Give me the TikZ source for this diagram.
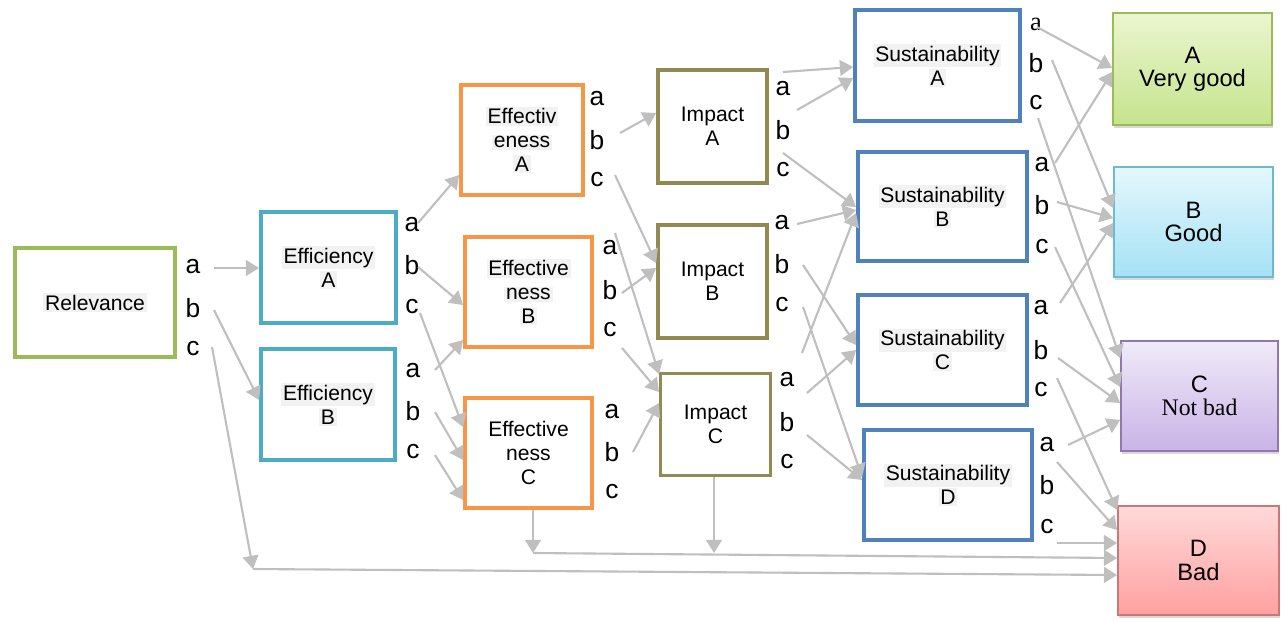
\documentclass[tikz,border=0pt]{standalone}
\usepackage{fontspec}
\setmainfont{Liberation Sans}
\newfontfamily\timesfont{Liberation Serif}
\usetikzlibrary{arrows.meta,shadows}

\definecolor{relgreen}{HTML}{9BBB59}
\definecolor{effteal}{HTML}{4BACC6}
\definecolor{efvorange}{HTML}{F79646}
\definecolor{impolive}{HTML}{938953}
\definecolor{susblue}{HTML}{4F81BD}
\definecolor{arrowgray}{HTML}{BFBFBF}
\definecolor{hlgray}{HTML}{F2F2F2}

\setlength{\fboxsep}{1pt}
\newcommand{\hlt}[1]{\colorbox{hlgray}{#1}}

\begin{document}
\begin{tikzpicture}[x=0.02cm, y=-0.02cm, >={Triangle[length=7.5pt,width=9pt]}]

    \useasboundingbox (0,0) rectangle (1283,620);

    % criteria boxes
    \begin{scope}[every node/.style={draw, line width=2.2pt, fill=white, align=center, inner sep=0pt, font=\fontsize{12}{13.6}\selectfont}]
        \node[draw=relgreen, minimum width=3.2cm, minimum height=2.18cm] (rel) at (95,302.5) {\hlt{Relevance}};
        \node[draw=effteal, minimum width=2.7cm, minimum height=2.22cm] (effA) at (328.5,267.5) {\hlt{Efficiency}\\\hlt{A}};
        \node[draw=effteal, minimum width=2.68cm, minimum height=2.22cm] (effB) at (328,404.5) {\hlt{Efficiency}\\\hlt{B}};
        \node[draw=efvorange, minimum width=2.44cm, minimum height=2.2cm] (efvA) at (522,140) {\hlt{Effectiv}\\\hlt{eness}\\\hlt{A}};
        \node[draw=efvorange, minimum width=2.54cm, minimum height=2.2cm] (efvB) at (528.5,292) {\hlt{Effective}\\\hlt{ness}\\\hlt{B}};
        \node[draw=efvorange, minimum width=2.54cm, minimum height=2.2cm] (efvC) at (528.5,453) {Effective\\ness\\C};
        \node[draw=impolive, minimum width=2.18cm, minimum height=2.26cm] (impA) at (712.5,126.5) {Impact\\A};
        \node[draw=impolive, minimum width=2.18cm, minimum height=2.26cm] (impB) at (712.5,281.5) {Impact\\B};
        \node[draw=impolive, line width=1.7pt, minimum width=2.2cm, minimum height=2.04cm] (impC) at (715.5,424.5) {Impact\\C};
        \node[draw=susblue, minimum width=3.3cm, minimum height=2.22cm] (susA) at (937.5,65.5) {\hlt{Sustainability}\\\hlt{A}};
        \node[draw=susblue, minimum width=3.38cm, minimum height=2.18cm] (susB) at (942.5,206.5) {\hlt{Sustainability}\\\hlt{B}};
        \node[draw=susblue, minimum width=3.38cm, minimum height=2.2cm] (susC) at (942.5,350) {\hlt{Sustainability}\\\hlt{C}};
        \node[draw=susblue, minimum width=3.36cm, minimum height=2.2cm] (susD) at (948,485) {\hlt{Sustainability}\\\hlt{D}};
    \end{scope}

    % outcome boxes
    \begin{scope}[every node/.style={draw, line width=1pt, align=center, inner sep=0pt, font=\fontsize{13.5}{13.2}\selectfont, drop shadow={opacity=0.3, shadow xshift=0.8pt, shadow yshift=-1.5pt}}]
        \node[draw=relgreen, top color={rgb,255:red,235;green,245;blue,208}, bottom color={rgb,255:red,197;green,228;blue,140}, minimum width=3.18cm, minimum height=2.24cm] (vgood) at (1192.5,69) {A\\Very good};
        \node[draw={rgb,255:red,110;green,185;blue,208}, top color={rgb,255:red,228;green,247;blue,252}, bottom color={rgb,255:red,165;green,226;blue,245}, minimum width=3.18cm, minimum height=2.2cm] (good) at (1193.5,222) {B\\Good};
        \node[draw={rgb,255:red,143;green,120;blue,176}, top color={rgb,255:red,240;green,234;blue,249}, bottom color={rgb,255:red,201;green,179;blue,230}, minimum width=3.14cm, minimum height=2.2cm] (notbad) at (1199.5,396) {C\\{\timesfont Not bad}};
        \node[draw={rgb,255:red,200;green,120;blue,118}, top color={rgb,255:red,255;green,217;blue,217}, bottom color={rgb,255:red,255;green,160;blue,160}, minimum width=3.22cm, minimum height=2.18cm] (bad) at (1198.5,560.5) {D\\Bad};
    \end{scope}

    % a b c labels
    \begin{scope}[every node/.style={inner sep=0pt, font=\fontsize{15}{17}\selectfont}]
        \node (rel-a) at (193,267) {a};   \node (rel-b) at (193,308) {b};   \node (rel-c) at (193,349) {c};
        \node (effA-a) at (412,225) {a};  \node (effA-b) at (412,265) {b};  \node (effA-c) at (412,307) {c};
        \node (effB-a) at (413,371) {a};  \node (effB-b) at (413,411) {b};  \node (effB-c) at (413,452) {c};
        \node (efvA-a) at (597,99) {a};   \node (efvA-b) at (597,140) {b};  \node (efvA-c) at (597,180) {c};
        \node (efvB-a) at (610,248) {a};  \node (efvB-b) at (610,290) {b};  \node (efvB-c) at (610,330) {c};
        \node (efvC-a) at (612,412) {a};  \node (efvC-b) at (612,452) {b};  \node (efvC-c) at (612,492) {c};
        \node (impA-a) at (783,89) {a};   \node (impA-b) at (783,130) {b};  \node (impA-c) at (783,170) {c};
        \node (impB-a) at (782,223) {a};  \node (impB-b) at (782,264) {b};  \node (impB-c) at (782,305) {c};
        \node (impC-a) at (787,380) {a};  \node (impC-b) at (787,422) {b};  \node (impC-c) at (787,462) {c};
        \node (susA-a) at (1036,24) {\timesfont a}; \node (susA-b) at (1036,63) {b}; \node (susA-c) at (1036,103) {c};
        \node (susB-a) at (1042,165) {a}; \node (susB-b) at (1042,205) {b}; \node (susB-c) at (1042,247) {c};
        \node (susC-a) at (1041,308) {a}; \node (susC-b) at (1041,350) {b}; \node (susC-c) at (1041,390) {c};
        \node (susD-a) at (1047,445) {a}; \node (susD-b) at (1047,485) {b}; \node (susD-c) at (1047,527) {c};
    \end{scope}

    % where the arrows start
    \coordinate (s-rel-a) at (214,268);   \coordinate (s-rel-b) at (214,310);   \coordinate (s-rel-c) at (212,347);
    \coordinate (s-effA-a) at (418,223);  \coordinate (s-effA-b) at (418,267);  \coordinate (s-effA-c) at (420,313);
    \coordinate (s-effB-a) at (435,370);  \coordinate (s-effB-b) at (435,412);  \coordinate (s-effB-c) at (435,455);
    \coordinate (s-efvA-b) at (620,133);  \coordinate (s-efvA-c) at (615,175);
    \coordinate (s-efvB-a) at (615,233);  \coordinate (s-efvB-b) at (622,293);  \coordinate (s-efvB-c) at (622,348);
    \coordinate (s-efvC-b) at (633,452);
    \coordinate (s-impA-a) at (783,72);   \coordinate (s-impA-b) at (797,110);  \coordinate (s-impA-c) at (783,153);
    \coordinate (s-impB-a) at (797,224);  \coordinate (s-impB-b) at (803,265);  \coordinate (s-impB-c) at (803,307);
    \coordinate (s-impC-t) at (802,353);  \coordinate (s-impC-a) at (807,393);  \coordinate (s-impC-b) at (807,435);
    \coordinate (s-susA-a) at (1037,27);  \coordinate (s-susA-b) at (1052,60);  \coordinate (s-susA-c) at (1038,118);
    \coordinate (s-susB-a) at (1055,163); \coordinate (s-susB-b) at (1057,202); \coordinate (s-susB-c) at (1055,247);
    \coordinate (s-susC-a) at (1060,303); \coordinate (s-susC-b) at (1058,358); \coordinate (s-susC-c) at (1057,378);
    \coordinate (s-susD-a) at (1068,445); \coordinate (s-susD-b) at (1057,462); \coordinate (s-susD-c) at (1057,543);
    \coordinate (j1) at (253,569);
    \coordinate (j2) at (533,553);
    \coordinate (j3) at (714,553);

    \begin{scope}[every edge/.style={draw=arrowgray, line width=1.2pt}]
        \path [->] (s-rel-a) edge (effA.west |- 0,268);
        \path [->] (s-rel-b) edge (effB.west |- 0,400);
        \path [->] (s-rel-c) edge (j1);
        \path [->] (j1) edge (bad.west |- 0,575);

        \path [->] (s-effA-a) edge (efvA.west |- 0,175);
        \path [->] (s-effA-b) edge (efvB.west |- 0,305);
        \path [->] (s-effA-c) edge (efvC.west |- 0,427);
        \path [->] (s-effB-a) edge (efvB.west |- 0,340);
        \path [->] (s-effB-b) edge (efvC.west |- 0,460);
        \path [->] (s-effB-c) edge (efvC.west |- 0,500);

        \path [->] (s-efvA-b) edge (impA.west |- 0,113);
        \path [->] (s-efvA-c) edge (impB.west |- 0,263);
        \path [->] (s-efvB-a) edge (impC.west |- 0,374);
        \path [->] (s-efvB-b) edge (impB.west |- 0,268);
        \path [->] (s-efvB-c) edge (impC.west |- 0,392);
        \path [->] (s-efvC-b) edge (impC.west |- 0,403);
        \path [->] (efvC.south -| j2) edge (j2);
        \path [->] (impC.south -| j3) edge (j3);
        \path [->] (j2) edge (bad.west |- 0,558);

        \path [->] (s-impA-a) edge (susA.west |- 0,67);
        \path [->] (s-impA-b) edge (susA.west |- 0,78);
        \path [->] (s-impA-c) edge (susB.west |- 0,207);
        \path [->] (s-impB-a) edge (susB.west |- 0,210);
        \path [->] (s-impB-b) edge (susC.west |- 0,345);
        \path [->] (s-impB-c) edge (susD.west |- 0,477);
        \path [->] (s-impC-t) edge (susB.west |- 0,213);
        \path [->] (s-impC-a) edge (susC.west |- 0,350);
        \path [->] (s-impC-b) edge (susD.west |- 0,480);

        \path [->] (s-susA-a) edge (vgood.west |- 0,68);
        \path [->] (s-susA-b) edge (good.west |- 0,208);
        \path [->] (s-susA-c) edge (notbad.west |- 0,358);
        \path [->] (s-susB-a) edge (vgood.west |- 0,72);
        \path [->] (s-susB-b) edge (good.west |- 0,218);
        \path [->] (s-susB-c) edge (notbad.west |- 0,387);
        \path [->] (s-susC-a) edge (good.west |- 0,223);
        \path [->] (s-susC-b) edge (notbad.west |- 0,403);
        \path [->] (s-susC-c) edge (bad.west |- 0,510);
        \path [->] (s-susD-a) edge (notbad.west |- 0,420);
        \path [->] (s-susD-b) edge (bad.west |- 0,530);
        \path [->] (s-susD-c) edge (bad.west |- 0,543);
    \end{scope}

\end{tikzpicture}
\end{document}
